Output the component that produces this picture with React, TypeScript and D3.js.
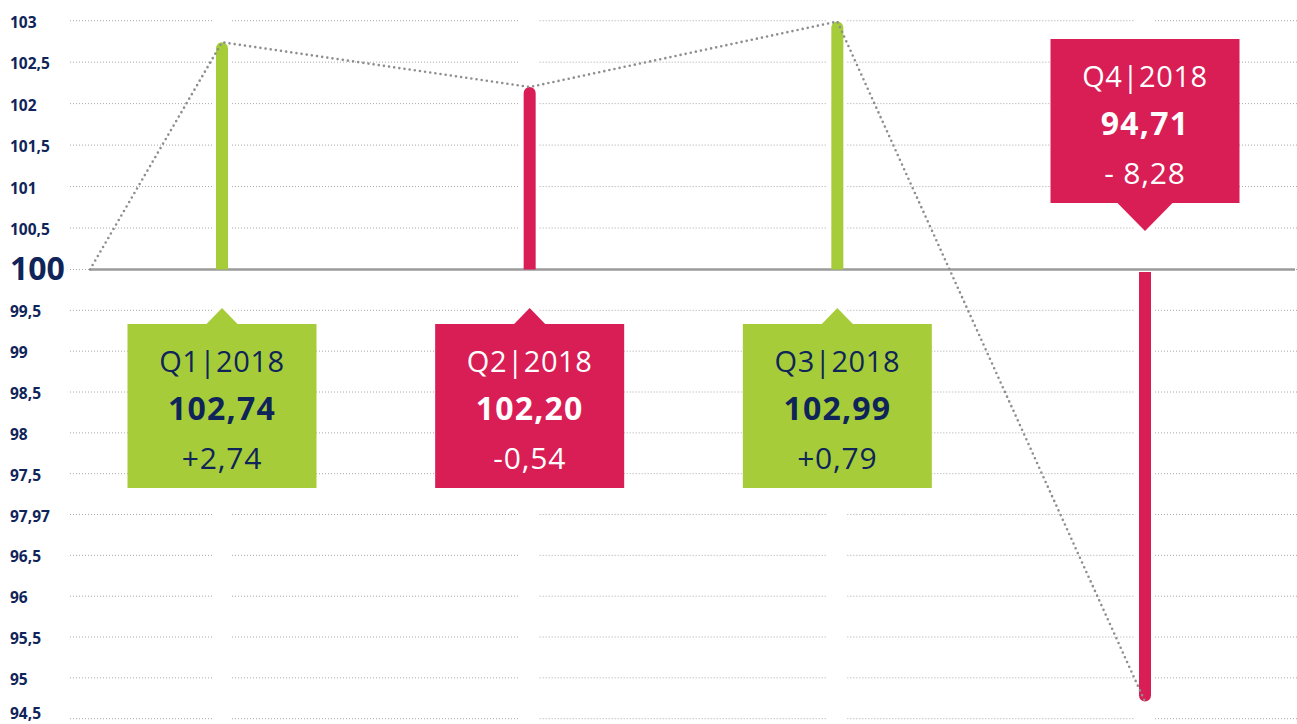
import React from "react";
import * as d3 from "d3";

const categories = ["Q1|2018", "Q2|2018", "Q3|2018", "Q4|2018"];
const indexValues = [102.74, 102.2, 102.99, 94.71];
const changeLabels = ["+2,74", "-0,54", "+0,79", "- 8,28"];
const changeSigns = [1, -1, 1, -1];
const baseValue = 100;
const tickValues = [103, 102.5, 102, 101.5, 101, 100.5, 100, 99.5, 99, 98.5, 98, 97.5, 97, 96.5, 96, 95.5, 95, 94.5];
const tickLabels = ["103", "102,5", "102", "101,5", "101", "100,5", "100", "99,5", "99", "98,5", "98", "97,5", "97,97", "96,5", "96", "95,5", "95", "94,5"];

const W = 1297;
const H = 724;
const GREEN = "#a6cd39";
const RED = "#d91d55";
const NAVY = "#0f2459";
const GRAY = "#9b9b9b";
const FONT = "'Open Sans', 'Noto Sans', sans-serif";

const locale = d3.formatLocale({ decimal: ",", thousands: ".", grouping: [3], currency: ["", "€"] });
const fmt = locale.format(".2f");

export default function App() {
  const y = d3.scaleLinear().domain([94.5, 100, 103]).range([718.7, 269.5, 20.7]);
  const x = d3.scalePoint<string>().domain(categories).range([222, 1145]);
  const x0 = 90;
  const gridLeft = 70;
  const gap = 10;
  const by = y(baseValue);
  const r = 6;

  const gridSegments: { y: number; x1: number; x2: number }[] = [];
  tickValues.forEach((t) => {
    const ty = y(t);
    const cuts = categories.map((c) => x(c) as number);
    let start = gridLeft;
    cuts.forEach((cx) => {
      gridSegments.push({ y: ty, x1: start, x2: cx - gap });
      start = cx + gap;
    });
    gridSegments.push({ y: ty, x1: start, x2: W });
  });

  const pts: [number, number][] = [[x0, by], ...categories.map((c, i) => [x(c) as number, y(indexValues[i])] as [number, number])];
  const connector = d3.line()(pts) || "";

  const barPath = (cx: number, v: number) => {
    const y1 = y(v);
    if (v >= baseValue) {
      return `M${cx - r},${by} V${y1 + r} A${r},${r} 0 0 1 ${cx + r},${y1 + r} V${by} Z`;
    }
    const top = by + 2.5;
    return `M${cx - r},${top} V${y1 - r} A${r},${r} 0 0 0 ${cx + r},${y1 - r} V${top} Z`;
  };

  const boxW = 189;
  const boxH = 164;

  return (
    <svg width={W} height={H} style={{ position: "absolute", left: 0, top: 0, background: "#fff" }} fontFamily={FONT}>
      {gridSegments.map((s, i) => (
        <line key={i} x1={s.x1} x2={s.x2} y1={s.y} y2={s.y} stroke="#a8a8a8" strokeWidth={1} strokeDasharray="1 2" />
      ))}
      <line x1={x0} x2={1295} y1={by} y2={by} stroke={GRAY} strokeWidth={2.5} />
      {tickValues.map((t, i) => (
        <text
          key={t}
          x={10}
          y={t === baseValue ? y(t) - 2 : Math.min(y(t) + 1, 712.5)}
          dominantBaseline="central"
          fill={NAVY}
          fontWeight={700}
          fontSize={t === baseValue ? 32 : 15.5}
        >
          {tickLabels[i]}
        </text>
      ))}
      {categories.map((c, i) => (
        <path key={c} d={barPath(x(c) as number, indexValues[i])} fill={changeSigns[i] > 0 ? GREEN : RED} />
      ))}
      <path d={connector} fill="none" stroke="#8e8e8e" strokeWidth={2.6} strokeLinecap="round" strokeDasharray="0 5.2" />
      {categories.map((c, i) => {
        const cx = x(c) as number;
        const up = indexValues[i] >= baseValue;
        const color = changeSigns[i] > 0 ? GREEN : RED;
        const textColor = changeSigns[i] > 0 ? NAVY : "#ffffff";
        const boxTop = up ? by + 54.5 : by - 66.5 - boxH;
        const boxBottom = boxTop + boxH;
        const ph = up ? 16 : 28;
        const pw = up ? 16 : 28;
        const pointer = up
          ? `M${cx - pw},${boxTop + 0.5} L${cx},${boxTop - ph} L${cx + pw},${boxTop + 0.5} Z`
          : `M${cx - pw},${boxBottom - 0.5} L${cx},${boxBottom + ph} L${cx + pw},${boxBottom - 0.5} Z`;
        return (
          <g key={c}>
            <rect x={cx - boxW / 2} y={boxTop} width={boxW} height={boxH} fill={color} />
            <path d={pointer} fill={color} />
            <text x={cx} y={boxTop + 36} textAnchor="middle" dominantBaseline="central" fill={textColor} fontSize={29} fontWeight={400} letterSpacing={0.6}>
              {c}
            </text>
            <text x={cx} y={boxTop + 83} textAnchor="middle" dominantBaseline="central" fill={textColor} fontSize={32} fontWeight={700} letterSpacing={1.2}>
              {fmt(indexValues[i])}
            </text>
            <text x={cx} y={boxTop + 133} textAnchor="middle" dominantBaseline="central" fill={textColor} fontSize={30} fontWeight={400} letterSpacing={0.8}>
              {changeLabels[i]}
            </text>
          </g>
        );
      })}
    </svg>
  );
}
